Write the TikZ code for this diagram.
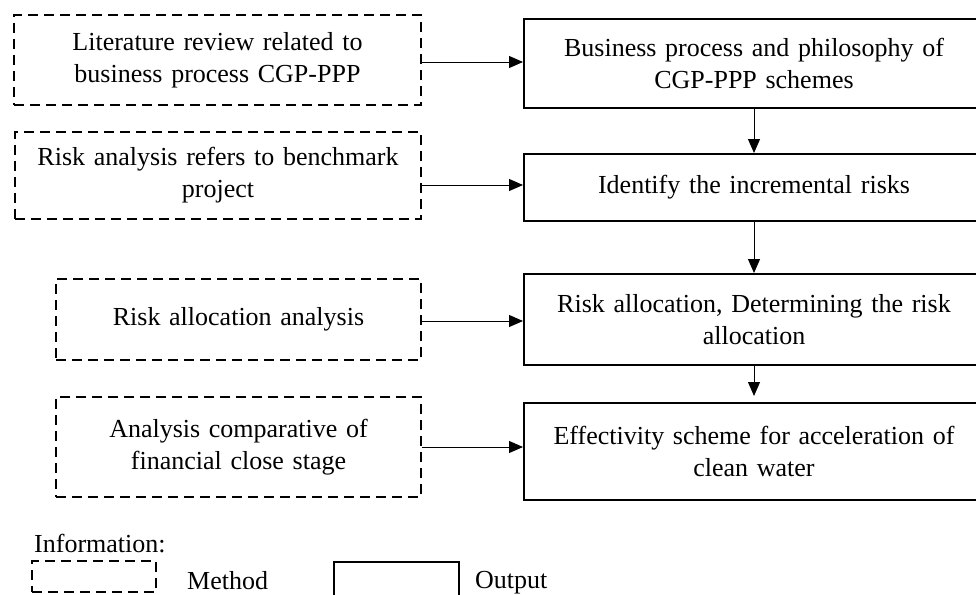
\documentclass[tikz,border=0pt]{standalone}
\usepackage{fontspec}
\setmainfont{Liberation Serif}
\usetikzlibrary{arrows.meta}
\begin{document}
\begin{tikzpicture}[x=1pt,y=-1pt,
  txt/.style={font=\fontsize{26}{32}\selectfont, align=center, inner sep=0pt},
  method/.style={txt, draw, line width=1.8pt, dash pattern=on 10pt off 6pt, text width=390pt},
  outbox/.style={txt, draw, line width=2pt, minimum width=460pt, text width=440pt},
  conn/.style={line width=1pt, -{Triangle[length=14pt,width=12pt]}}]
\useasboundingbox (0,0) rectangle (976,594);
% method boxes
\node[method, minimum width=407pt, minimum height=90pt] (d1) at (217.5,60) {Literature review related to\\business process CGP-PPP};
\node[method, minimum width=406pt, minimum height=87pt] (d2) at (218,175.5) {Risk analysis refers to benchmark\\project};
\node[method, minimum width=365pt, minimum height=81pt, text width=350pt] (d3) at (238.5,319.5) {Risk allocation analysis};
\node[method, minimum width=365pt, minimum height=100pt, text width=350pt] (d4) at (238.5,447) {Analysis comparative of\\financial close stage};
% output boxes
\node[outbox, minimum height=89pt] (r1) at (754,63.5) {Business process and philosophy of\\CGP-PPP schemes};
\node[outbox, minimum height=67pt] (r2) at (754,187.5) {Identify the incremental risks};
\node[outbox, minimum height=91pt] (r3) at (754,319.5) {Risk allocation, Determining the risk\\allocation};
\node[outbox, minimum height=97pt] (r4) at (754,451.5) {Effectivity scheme for acceleration of\\clean water};
% connectors
\draw[conn] (d1.east |- 0,62) -- (r1.west |- 0,62);
\draw[conn] (d2.east |- 0,185) -- (r2.west |- 0,185);
\draw[conn] (d3.east |- 0,321) -- (r3.west |- 0,321);
\draw[conn] (d4.east |- 0,447) -- (r4.west |- 0,447);
\draw[conn] (r1.south) -- (r2.north);
\draw[conn] (r2.south) -- (r3.north);
\draw[conn] (r3.south) -- ([yshift=6pt]r4.north);
% legend
\node[txt, anchor=base west] (info) at (34,552) {Information:};
\node[draw, line width=1.8pt, dash pattern=on 10pt off 6pt, minimum width=124pt, minimum height=31pt, inner sep=0pt] (lm) at (94,576.5) {};
\node[txt, anchor=base west] (lmt) at (187,589) {Method};
\node[draw, line width=2pt, minimum width=125pt, minimum height=48pt, inner sep=0pt] (lo) at (396.5,586) {};
\node[txt, anchor=base west] (lot) at (475,588) {Output};
\end{tikzpicture}
\end{document}
